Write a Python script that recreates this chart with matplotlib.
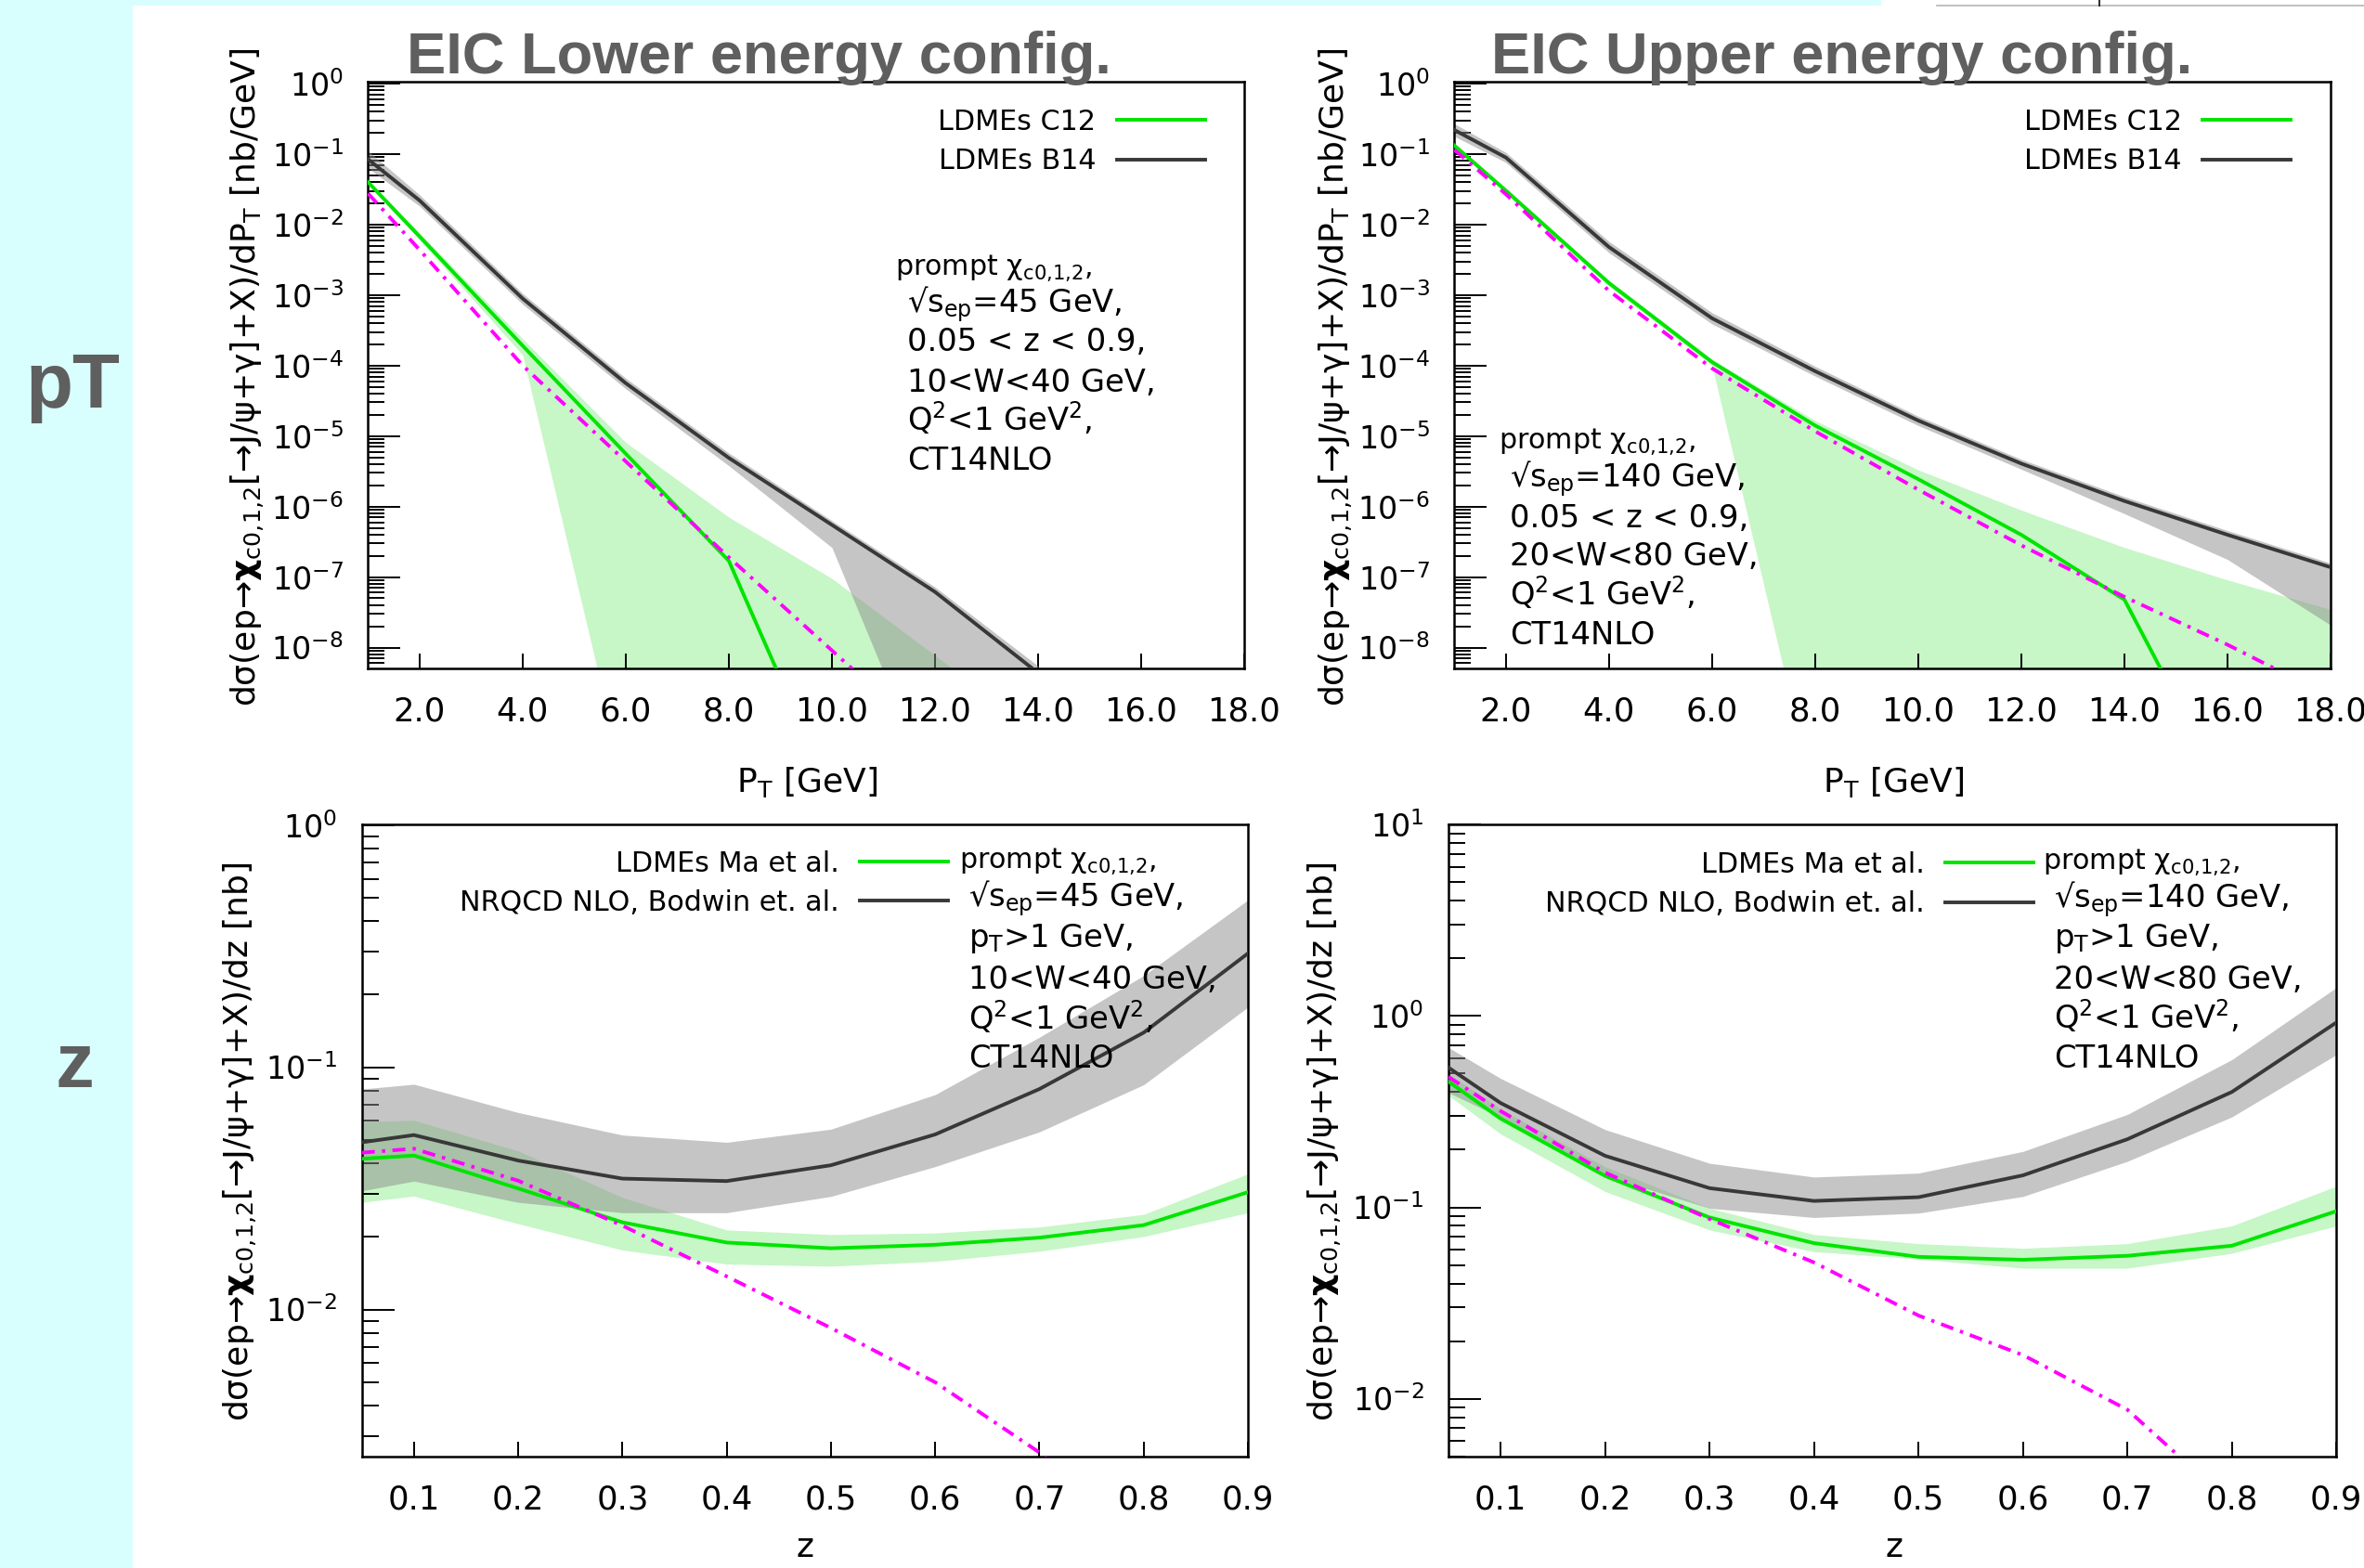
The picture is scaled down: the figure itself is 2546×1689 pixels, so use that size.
import numpy as np
import matplotlib
matplotlib.use("Agg")
import matplotlib.pyplot as plt
from matplotlib.lines import Line2D
from matplotlib.patches import Rectangle
from matplotlib.ticker import LogLocator, FixedLocator, FormatStrFormatter, NullFormatter

plt.rcParams['font.family'] = 'DejaVu Sans'
plt.rcParams['mathtext.fontset'] = 'dejavusans'

W, H = 2546, 1689

# ---- pT distributions, lower energy (sqrt(s)=45 GeV) ----
pt_lo = [1, 2, 4, 6, 8, 10, 12, 14]
lo_b14 = [8.41e-2, 2.19e-2, 8.91e-4, 5.62e-5, 4.90e-6, 5.50e-7, 6.17e-8, 4.37e-9]
lo_b14_up = [1.11e-1, 2.63e-2, 1.05e-3, 6.61e-5, 5.75e-6, 6.31e-7, 7.24e-8, 5.50e-9]
lo_b14_dn = [6.31e-2, 1.82e-2, 7.41e-4, 4.68e-5, 3.80e-6, 2.63e-7, 7.9e-11, 1e-12]
lo_c12_up = [4.27e-2, 7.59e-3, 2.40e-4, 8.13e-6, 7.08e-7, 9.55e-8, 7.76e-9, 6.3e-10]
lo_c12_dn = [3.72e-2, 6.03e-3, 1.41e-4, 1e-10, 1e-12, 1e-12, 1e-12, 1e-12]
pt_lo_c12 = [1, 2, 4, 6, 8, 10]
lo_c12 = [3.98e-2, 6.76e-3, 1.91e-4, 5.62e-6, 1.70e-7, 7.9e-11]
pt_lo_dir = [1, 2, 4, 6, 8, 10, 12]
lo_dir = [2.75e-2, 4.37e-3, 1.0e-4, 4.37e-6, 1.91e-7, 9.12e-9, 4.37e-10]

# ---- pT distributions, upper energy (sqrt(s)=140 GeV) ----
pt_hi = [1, 2, 4, 6, 8, 10, 12, 14, 16, 18]
hi_b14 = [2.19e-1, 8.91e-2, 4.79e-3, 4.68e-4, 8.32e-5, 1.66e-5, 4.07e-6, 1.20e-6, 3.98e-7, 1.38e-7]
hi_b14_up = [2.69e-1, 1.05e-1, 5.75e-3, 5.62e-4, 9.77e-5, 1.91e-5, 4.68e-6, 1.38e-6, 4.57e-7, 1.58e-7]
hi_b14_dn = [1.78e-1, 7.59e-2, 3.98e-3, 3.89e-4, 7.08e-5, 1.41e-5, 3.39e-6, 7.94e-7, 1.78e-7, 2.09e-8]
hi_c12_up = [1.41e-1, 3.31e-2, 1.62e-3, 1.23e-4, 1.66e-5, 3.31e-6, 8.91e-7, 2.63e-7, 9.12e-8, 3.47e-8]
hi_c12_dn = [1.20e-1, 2.75e-2, 1.32e-3, 1.0e-4, 6.3e-11, 1e-12, 1e-12, 1e-12, 1e-12, 1e-12]
pt_hi_c12 = [1, 2, 4, 6, 8, 10, 12, 14, 16]
hi_c12 = [1.32e-1, 3.02e-2, 1.48e-3, 1.12e-4, 1.41e-5, 2.45e-6, 3.98e-7, 4.79e-8, 7.9e-11]
hi_dir = [1.15e-1, 2.69e-2, 1.15e-3, 9.12e-5, 1.17e-5, 1.74e-6, 2.82e-7, 5.25e-8, 1.10e-8, 2.0e-9]

# ---- z distributions ----
z = [0.05, 0.1, 0.2, 0.3, 0.4, 0.5, 0.6, 0.7, 0.8, 0.9]
zlo_nrqcd = [4.90e-2, 5.25e-2, 4.12e-2, 3.47e-2, 3.39e-2, 3.94e-2, 5.28e-2, 8.13e-2, 1.39e-1, 2.95e-1]
zlo_nrqcd_up = [8.13e-2, 8.51e-2, 6.50e-2, 5.25e-2, 4.90e-2, 5.55e-2, 7.71e-2, 1.33e-1, 2.39e-1, 4.90e-1]
zlo_nrqcd_dn = [3.09e-2, 3.39e-2, 2.77e-2, 2.51e-2, 2.51e-2, 2.93e-2, 3.89e-2, 5.41e-2, 8.47e-2, 1.77e-1]
zlo_ma = [4.19e-2, 4.32e-2, 3.16e-2, 2.29e-2, 1.89e-2, 1.79e-2, 1.85e-2, 1.98e-2, 2.23e-2, 3.05e-2]
zlo_ma_up = [5.96e-2, 6.04e-2, 4.51e-2, 2.90e-2, 2.13e-2, 2.04e-2, 2.07e-2, 2.19e-2, 2.47e-2, 3.63e-2]
zlo_ma_dn = [2.77e-2, 2.94e-2, 2.26e-2, 1.76e-2, 1.54e-2, 1.51e-2, 1.58e-2, 1.74e-2, 2.0e-2, 2.51e-2]
zlo_dir = [4.44e-2, 4.61e-2, 3.40e-2, 2.22e-2, 1.37e-2, 8.39e-3, 5.01e-3, 2.57e-3, 1.12e-3, 4.47e-4]

zhi_nrqcd = [5.38e-1, 3.51e-1, 1.86e-1, 1.26e-1, 1.08e-1, 1.13e-1, 1.47e-1, 2.27e-1, 4.01e-1, 9.25e-1]
zhi_nrqcd_up = [6.85e-1, 4.72e-1, 2.55e-1, 1.70e-1, 1.44e-1, 1.51e-1, 1.96e-1, 3.06e-1, 5.92e-1, 1.41]
zhi_nrqcd_dn = [3.98e-1, 2.96e-1, 1.46e-1, 9.89e-2, 8.85e-2, 9.33e-2, 1.14e-1, 1.74e-1, 2.97e-1, 6.28e-1]
zhi_ma = [4.55e-1, 2.91e-1, 1.46e-1, 8.85e-2, 6.50e-2, 5.51e-2, 5.32e-2, 5.58e-2, 6.30e-2, 9.55e-2]
zhi_ma_up = [5.01e-1, 3.26e-1, 1.63e-1, 9.89e-2, 7.21e-2, 6.46e-2, 6.11e-2, 6.46e-2, 8.0e-2, 1.29e-1]
zhi_ma_dn = [3.85e-1, 2.42e-1, 1.21e-1, 7.62e-2, 5.87e-2, 5.37e-2, 4.81e-2, 4.81e-2, 5.75e-2, 8.0e-2]
zhi_dir = [4.81e-1, 3.19e-1, 1.52e-1, 8.69e-2, 5.15e-2, 2.72e-2, 1.69e-2, 8.75e-3, 2.82e-3, 7.94e-4]

pt_ticks = [2, 4, 6, 8, 10, 12, 14, 16, 18]
z_ticks = [0.1, 0.2, 0.3, 0.4, 0.5, 0.6, 0.7, 0.8, 0.9]

GREEN = '#00e400'
DARK = '#383838'
MAGENTA = '#ff00ff'
CYAN = '#d9fefe'
GREY_TXT = '#5f5f5f'
LW = 2.8

fig = plt.figure(figsize=(W / 100, H / 100), dpi=100)
fig.patch.set_facecolor('white')
fig.add_artist(Rectangle((0, 0), 143 / W, 1, transform=fig.transFigure, color=CYAN, lw=0))
fig.add_artist(Rectangle((0, 1 - 6 / H), 2026 / W, 6 / H, transform=fig.transFigure, color=CYAN, lw=0))
fig.add_artist(Line2D([2086 / W, 1], [1 - 6 / H, 1 - 6 / H], transform=fig.transFigure, color='#b5b5b5', lw=1.2))
fig.add_artist(Line2D([2261 / W, 2261 / W], [1, 1 - 6 / H], transform=fig.transFigure, color='#333333', lw=1.5))


def px(x, y):
    return x / W, 1 - y / H


def ftext(x, y, s, **kw):
    fig.text(*px(x, y), s, **kw)


def make_axes(l, t, r, b):
    return fig.add_axes([l / W, 1 - b / H, (r - l) / W, (b - t) / H])


def style(ax, xlim, ylim, xticks, xfmt):
    ax.set_yscale('log')
    ax.set_xlim(*xlim)
    ax.set_ylim(*ylim)
    ax.xaxis.set_major_locator(FixedLocator(xticks))
    ax.xaxis.set_major_formatter(FormatStrFormatter(xfmt))
    ax.yaxis.set_major_locator(LogLocator(base=10, numticks=50))
    ax.yaxis.set_minor_locator(LogLocator(base=10, subs=np.arange(2, 10), numticks=200))
    ax.yaxis.set_minor_formatter(NullFormatter())
    for s in ax.spines.values():
        s.set_linewidth(1.8)
    ax.tick_params(which='both', direction='in', top=False, right=False, width=1.4, color='black')
    ax.tick_params(axis='y', which='major', length=25, pad=19, labelsize=24)
    ax.tick_params(axis='y', which='minor', length=13)
    ax.tick_params(axis='x', which='major', length=11.5, pad=21.5, labelsize=25.5)


def draw(ax, x, nr, nr_up, nr_dn, ma_x, ma, ma_up, ma_dn, dir_x, direct):
    ax.fill_between(x, ma_dn, ma_up, color='#90ee90', alpha=0.5, lw=0, zorder=1)
    ax.fill_between(x, nr_dn, nr_up, color='#8c8c8c', alpha=0.5, lw=0, zorder=2)
    ax.plot(ma_x, ma, color=GREEN, lw=LW, zorder=4)
    ax.plot(x, nr, color=DARK, lw=LW, zorder=5)
    ax.plot(dir_x, direct, color=MAGENTA, lw=LW, dashes=(3.6, 2, 0.9, 2), zorder=6)


def legend(ax, labels, x, y):
    handles = [Line2D([], [], color=GREEN, lw=LW), Line2D([], [], color=DARK, lw=LW)]
    ax.legend(handles, labels, loc='upper right', bbox_to_anchor=px(x, y),
              bbox_transform=fig.transFigure, markerfirst=False, frameon=False,
              fontsize=21.7, handlelength=3.15, handletextpad=0.74,
              labelspacing=0.44, borderpad=0, borderaxespad=0)


def info(x0, y0, x1, ys, lines):
    ftext(x0, y0, 'prompt χ$_{\\mathrm{c0{,}1{,}2}}$,', fontsize=21.7, va='baseline')
    for y, s in zip(ys, lines):
        ftext(x1, y, s, fontsize=24.3, va='baseline')


ylab_pt = 'dσ(ep→$\\mathbf{χ}_{\\mathrm{c0{,}1{,}2}}$[→J/ψ+γ]+X)/dP$_{\\mathrm{T}}$ [nb/GeV]'
ylab_z = 'dσ(ep→$\\mathbf{χ}_{\\mathrm{c0{,}1{,}2}}$[→J/ψ+γ]+X)/dz [nb]'

# top-left: pT, lower energy
ax1 = make_axes(396.4, 88.3, 1340, 719.8)
style(ax1, (1, 18), (5.1e-9, 1.05), pt_ticks, '%.1f')
draw(ax1, pt_lo, lo_b14, lo_b14_up, lo_b14_dn, pt_lo_c12, lo_c12, lo_c12_up, lo_c12_dn, pt_lo_dir, lo_dir)
legend(ax1, ['LDMEs C12', 'LDMEs B14'], 1297.7, 117)
ax1.set_xlabel('P$_{\\mathrm{T}}$ [GeV]', fontsize=26)
ax1.xaxis.set_label_coords(*px(868.6, 824), transform=fig.transFigure)
ax1.set_ylabel(ylab_pt, fontsize=26, va='center')
ax1.yaxis.set_label_coords(*px(267, 406), transform=fig.transFigure)
info(964.3, 295.6, 976.8, [336.4, 378.3, 421.6, 463.4, 505.6],
     ['√s$_{\\mathrm{ep}}$=45 GeV,', '0.05 < z < 0.9,', '10<W<40 GeV,',
      'Q$^{2}$<1 GeV$^{2}$,', 'CT14NLO'])

# top-right: pT, upper energy
ax2 = make_axes(1566.3, 88.3, 2510, 719.8)
style(ax2, (1, 18), (5.1e-9, 1.05), pt_ticks, '%.1f')
draw(ax2, pt_hi, hi_b14, hi_b14_up, hi_b14_dn, pt_hi_c12, hi_c12, hi_c12_up, hi_c12_dn, pt_hi, hi_dir)
legend(ax2, ['LDMEs C12', 'LDMEs B14'], 2467, 117)
ax2.set_xlabel('P$_{\\mathrm{T}}$ [GeV]', fontsize=26)
ax2.xaxis.set_label_coords(*px(2039, 824), transform=fig.transFigure)
ax2.set_ylabel(ylab_pt, fontsize=26, va='center')
ax2.yaxis.set_label_coords(*px(1439, 406), transform=fig.transFigure)
info(1614, 482.5, 1626, [524.6, 568, 608.6, 652, 694.2],
     ['√s$_{\\mathrm{ep}}$=140 GeV,', '0.05 < z < 0.9,', '20<W<80 GeV,',
      'Q$^{2}$<1 GeV$^{2}$,', 'CT14NLO'])

# bottom-left: z, lower energy
ax3 = make_axes(389.7, 887.5, 1344, 1568.6)
style(ax3, (0.05, 0.9), (2.48e-3, 1.01), z_ticks, '%.1f')
draw(ax3, z, zlo_nrqcd, zlo_nrqcd_up, zlo_nrqcd_dn, z, zlo_ma, zlo_ma_up, zlo_ma_dn, z, zlo_dir)
legend(ax3, ['LDMEs Ma et al.', 'NRQCD NLO, Bodwin et. al.'], 1020.7, 915.7)
ax3.set_xlabel('z', fontsize=26)
ax3.xaxis.set_label_coords(*px(866.5, 1650), transform=fig.transFigure)
ax3.set_ylabel(ylab_z, fontsize=26, va='center')
ax3.yaxis.set_label_coords(*px(258.7, 1230), transform=fig.transFigure)
info(1032.7, 935, 1043.3, [976.7, 1020, 1065, 1108.3, 1150],
     ['√s$_{\\mathrm{ep}}$=45 GeV,', 'p$_{\\mathrm{T}}$>1 GeV,', '10<W<40 GeV,',
      'Q$^{2}$<1 GeV$^{2}$,', 'CT14NLO'])

# bottom-right: z, upper energy
ax4 = make_axes(1559.9, 887.5, 2516.2, 1568.6)
style(ax4, (0.05, 0.9), (5.0e-3, 10.1), z_ticks, '%.1f')
draw(ax4, z, zhi_nrqcd, zhi_nrqcd_up, zhi_nrqcd_dn, z, zhi_ma, zhi_ma_up, zhi_ma_dn, z, zhi_dir)
legend(ax4, ['LDMEs Ma et al.', 'NRQCD NLO, Bodwin et. al.'], 2190.3, 917)
ax4.set_xlabel('z', fontsize=26)
ax4.xaxis.set_label_coords(*px(2040, 1650), transform=fig.transFigure)
ax4.set_ylabel(ylab_z, fontsize=26, va='center')
ax4.yaxis.set_label_coords(*px(1427, 1230), transform=fig.transFigure)
info(2199.8, 936, 2212.5, [977, 1020, 1065, 1108, 1150],
     ['√s$_{\\mathrm{ep}}$=140 GeV,', 'p$_{\\mathrm{T}}$>1 GeV,', '20<W<80 GeV,',
      'Q$^{2}$<1 GeV$^{2}$,', 'CT14NLO'])

# titles and row labels
ftext(437.8, 78.6, 'EIC Lower energy config.', fontsize=45.5, fontweight='bold',
      family='Liberation Sans', color=GREY_TXT, va='baseline')
ftext(1606, 78.6, 'EIC Upper energy config.', fontsize=45.5, fontweight='bold',
      family='Liberation Sans', color=GREY_TXT, va='baseline')
ftext(78.8, 439, 'pT', fontsize=60, fontweight='bold', family='Liberation Sans',
      color=GREY_TXT, ha='center', va='baseline')
ftext(80.4, 1171, 'z', fontsize=60, fontweight='bold', family='Liberation Sans',
      color=GREY_TXT, ha='center', va='baseline')

fig.savefig('out.png', dpi=100)
